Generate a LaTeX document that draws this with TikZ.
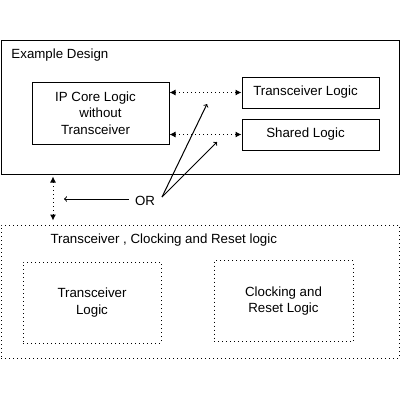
\documentclass[tikz,border=0pt]{standalone}
\usepackage{fontspec}
\setmainfont{Liberation Sans}
\usetikzlibrary{arrows,arrows.meta,positioning}

\begin{document}
\begin{tikzpicture}[x=1pt,y=-1pt,>={Latex[length=6pt,width=6pt]},line width=1pt,
		font=\fontsize{13.3}{16.5}\selectfont]
		\tikzset{blk/.style={draw,inner sep=0pt,align=center},
			dots/.style={dash pattern=on 1pt off 3pt},
			lbl/.style={inner sep=0pt,anchor=west}}
		\useasboundingbox (0,0) rectangle (400,400);
		% example design
		\node [blk,minimum width=398pt,minimum height=134pt] (design) at (200,107) {};
		\node [lbl] (dtitle) at (11,55) {Example Design};
		\node [blk,minimum width=137pt,minimum height=62pt] (ip) at (100.5,113) {IP Core Logic\hspace*{10pt}\\without\hspace*{8pt}\\Transceiver\hspace*{10pt}};
		\node [blk,minimum width=137pt,minimum height=31pt] (tl) at (310.5,92.5) {Transceiver Logic\hspace*{10pt}};
		\node [blk,minimum width=137pt,minimum height=31pt] (sl) at (310.5,134.5) {Shared Logic\hspace*{10pt}};
		\draw [<->,dots] (ip.east |- tl.west) -- (tl.west);
		\draw [<->,dots] (ip.east |- sl.west) -- (sl.west);
		
		% transceiver, clocking and reset
		\node [blk,dots,minimum width=398pt,minimum height=133pt] (trx) at (200,291.5) {};
		\node [lbl] (ttitle) at (50,240) {Transceiver , Clocking and Reset logic};
		\node [blk,dots,minimum width=138pt,minimum height=81pt] (tlb) at (92,302.5) {Transceiver\\Logic};
		\node [blk,dots,minimum width=139pt,minimum height=81pt] (crl) at (283.5,301) {Clocking and\\Reset Logic};
		
		% OR
		\node [inner sep=0pt] (or) at (145,201) {OR};
		\coordinate (orend) at (64,199);
		\coordinate (orfoot) at (162,197);
		\coordinate (tltip) at (207,104);
		\coordinate (sltip) at (217,142);
		\coordinate (vx) at (53,0);
		\draw [-to,shorten <=6pt] (or.west |- orend) -- (orend);
		\draw [-to] (orfoot) -- (tltip);
		\draw [-to] (orfoot) -- (sltip);
		\draw [<->,dots,shorten <=2pt,shorten >=4pt] (design.south -| vx) -- (trx.north -| vx);
	\end{tikzpicture}
\end{document}
